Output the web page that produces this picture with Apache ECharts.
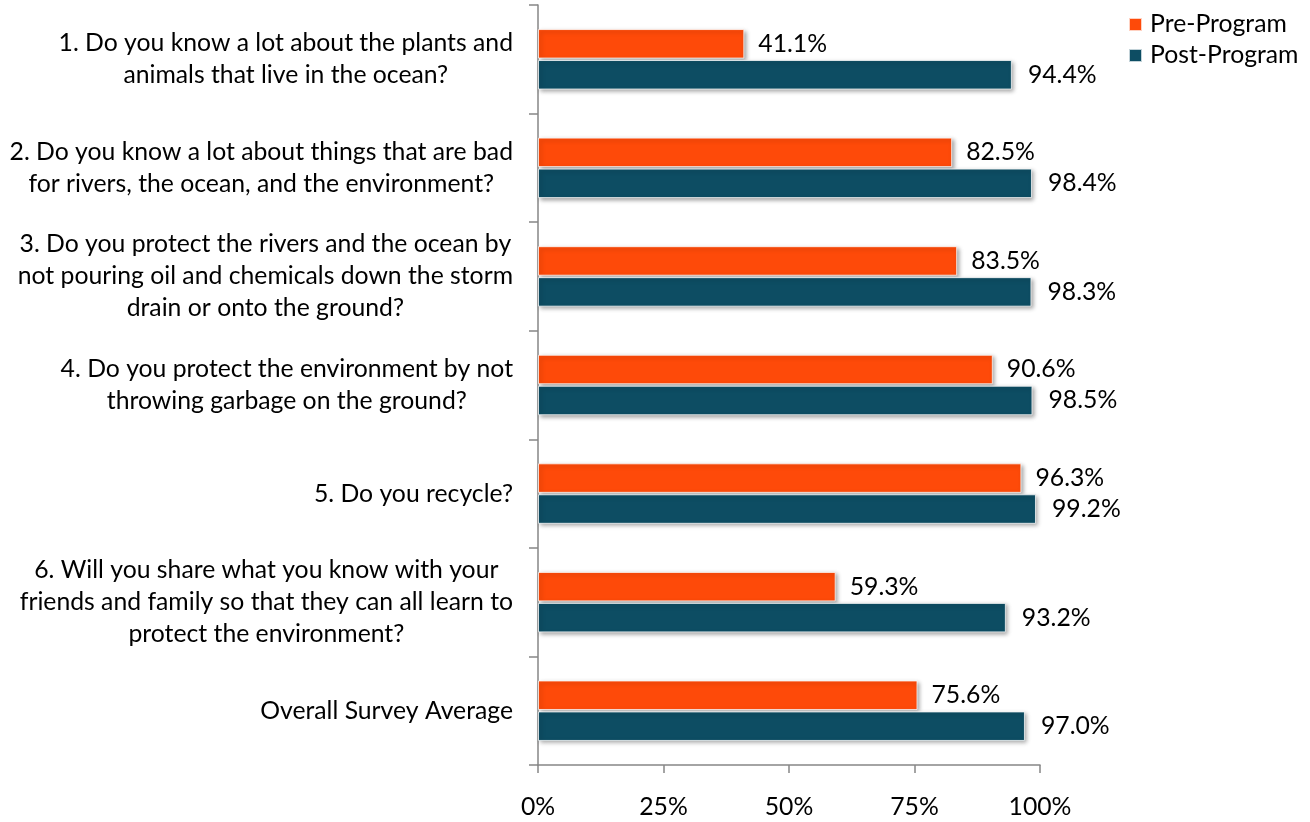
<!DOCTYPE html>
<html>
<head>
<meta charset="utf-8">
<script src="https://cdn.jsdelivr.net/npm/echarts@6/dist/echarts.min.js"></script>
<style>
html,body{margin:0;padding:0;background:#fff;}
#chart{width:1310px;height:822px;}
</style>
</head>
<body>
<div id="chart"></div>
<script>
const categories = [
  "1. Do you know a lot about the plants and\nanimals that live in the ocean?",
  "2. Do you know a lot about things that are bad\nfor rivers, the ocean, and the environment?",
  "3. Do you protect the rivers and the ocean by\nnot pouring oil and chemicals down the storm\ndrain or onto the ground?",
  "4. Do you protect the environment by not\nthrowing garbage on the ground?",
  "5. Do you recycle?",
  "6. Will you share what you know with your\nfriends and family so that they can all learn to\nprotect the environment?",
  "Overall Survey Average"
];
const preProgram = [41.1, 82.5, 83.5, 90.6, 96.3, 59.3, 75.6];
const postProgram = [94.4, 98.4, 98.3, 98.5, 99.2, 93.2, 97.0];
const seriesNames = ["Pre-Program", "Post-Program"];
const xTickValues = [0, 25, 50, 75, 100];

const FONT = "Lato, 'Open Sans', sans-serif";
const FS = 24.75;
const chart = echarts.init(document.getElementById('chart'), null, {renderer: 'canvas'});

function barSeries(name, data, color, dist) {
  return {
    name: name,
    type: 'bar',
    data: data,
    barWidth: 29.5,
    barGap: '5%',
    itemStyle: {
      color: color,
      borderColor: 'rgba(255,255,255,0.75)',
      borderWidth: 1,
      shadowColor: 'rgba(0,0,0,0.35)',
      shadowBlur: 4,
      shadowOffsetX: 2,
      shadowOffsetY: 2
    },
    label: {
      show: true,
      position: 'right',
      distance: dist,
      fontFamily: FONT,
      fontSize: FS,
      color: '#000',
      formatter: p => p.value.toFixed(1) + '%'
    }
  };
}

chart.setOption({
  animation: false,
  backgroundColor: '#fff',
  textStyle: {fontFamily: FONT},
  legend: {
    data: seriesNames,
    orient: 'vertical',
    left: 1128,
    top: 9,
    itemWidth: 13,
    itemHeight: 13,
    itemGap: 0,
    icon: 'rect',
    padding: 0,
    textStyle: {fontFamily: FONT, fontSize: FS, lineHeight: 31, color: '#000', padding: [0, 0, 0, 3]}
  },
  grid: {left: 538, right: 270, top: 5, bottom: 57, containLabel: false},
  xAxis: {
    type: 'value',
    min: xTickValues[0],
    max: xTickValues[xTickValues.length - 1],
    interval: xTickValues[1] - xTickValues[0],
    axisLine: {show: true, lineStyle: {color: '#868686', width: 1.5}},
    axisTick: {show: true, length: 8, lineStyle: {color: '#868686', width: 1.5}},
    splitLine: {show: false},
    axisLabel: {
      margin: 30,
      fontFamily: FONT,
      fontSize: FS,
      color: '#000',
      formatter: v => v + '%'
    }
  },
  yAxis: {
    type: 'category',
    inverse: true,
    data: categories,
    axisLine: {show: true, lineStyle: {color: '#868686', width: 1.5}},
    axisTick: {show: true, length: 9, lineStyle: {color: '#868686', width: 1.5}},
    axisLabel: {
      margin: 25,
      align: 'right',
      formatter: v => v.split('\n').map(l => '{c|' + l + '}').join('\n'),
      rich: {
        c: {align: 'center', fontFamily: FONT, fontSize: FS, lineHeight: 32, color: '#000'}
      }
    }
  },
  series: [
    barSeries(seriesNames[0], preProgram, '#FE4A09', 14),
    barSeries(seriesNames[1], postProgram, '#0D4D63', 16)
  ]
});
</script>
</body>
</html>
